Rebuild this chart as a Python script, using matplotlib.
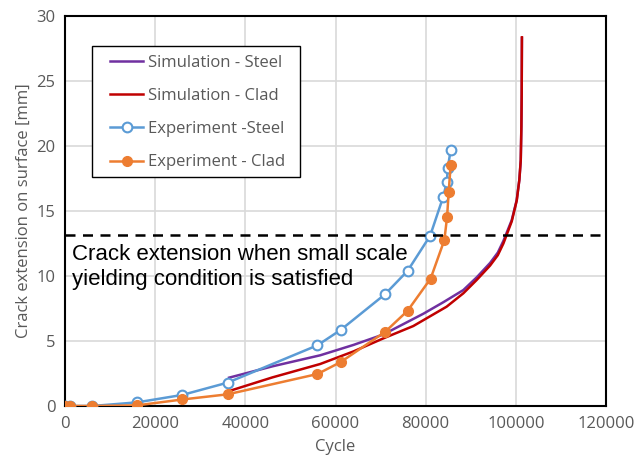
import matplotlib
matplotlib.use("Agg")
import matplotlib.pyplot as plt
from matplotlib.patches import Rectangle

# Simulation - Steel
sim_steel_x = [36400, 46000, 56600, 64000, 70600, 79500, 84000, 88360, 91330, 94280, 96000, 97240, 99090,
               100200, 100780, 101090, 101230, 101300, 101330, 101350]
sim_steel_y = [2.18, 3.05, 3.9, 4.7, 5.5, 7.1, 8.0, 8.92, 9.9, 11.0, 11.8, 12.7, 14.3,
               15.85, 17.4, 18.9, 21.5, 24.0, 26.6, 28.3]
# Simulation - Clad
sim_clad_x = [36400, 46000, 56600, 64000, 70600, 77250, 84650, 88360, 91330, 94280, 96000, 97240, 99090,
              100200, 100780, 101090, 101230, 101300, 101330, 101350]
sim_clad_y = [1.15, 2.2, 3.23, 4.2, 5.2, 6.15, 7.64, 8.67, 9.7, 10.8, 11.6, 12.5, 14.2,
              15.8, 17.4, 18.9, 21.5, 24.0, 26.6, 28.36]
# Experiment - Steel
exp_steel_x = [0, 1000, 6000, 16000, 26000, 36100, 56000, 61150, 71000, 76000, 81000, 83900, 84700, 84900, 85550]
exp_steel_y = [0, 0, 0, 0.28, 0.85, 1.8, 4.67, 5.85, 8.6, 10.4, 13.1, 16.1, 17.25, 18.3, 19.7]
# Experiment - Clad
exp_clad_x = [0, 1000, 6000, 16000, 26000, 36100, 56000, 61150, 71000, 76000, 81100, 84150, 84750, 85100, 85550]
exp_clad_y = [0, 0, 0, 0.05, 0.5, 0.9, 2.46, 3.38, 5.7, 7.33, 9.8, 12.77, 14.54, 16.43, 18.56]

ssy_level = 13.15
x_ticks = [0, 20000, 40000, 60000, 80000, 100000, 120000]
y_ticks = [0, 5, 10, 15, 20, 25, 30]

gray = "#595959"
fig = plt.figure(figsize=(6.38, 4.69), dpi=100)
ax = fig.add_axes([65/638, 1-406/469, 541/638, 390/469])

ax.plot(sim_steel_x, sim_steel_y, color="#7030A0", lw=1.8, label="Simulation - Steel", zorder=3)
ax.plot(sim_clad_x, sim_clad_y, color="#C00000", lw=1.8, label="Simulation - Clad", zorder=3)
ax.plot(exp_steel_x, exp_steel_y, color="#5B9BD5", lw=1.8, marker="o", ms=7,
        mfc="white", mec="#5B9BD5", mew=1.5, label="Experiment -Steel", zorder=4)
ax.plot(exp_clad_x, exp_clad_y, color="#ED7D31", lw=1.8, marker="o", ms=7,
        mfc="#ED7D31", mec="#ED7D31", label="Experiment - Clad", zorder=4)
ax.axhline(ssy_level, color="black", lw=1.8, ls=(0, (4, 3)), zorder=5)

ax.text(1550, 11.23, "Crack extension when small scale", fontsize=16, family="Liberation Sans",
        color="black", va="baseline", zorder=6)
ax.text(1550, 9.31, "yielding condition is satisfied", fontsize=16, family="Liberation Sans",
        color="black", va="baseline", zorder=6)

ax.set_xlim(0, 120000)
ax.set_ylim(0, 30)
ax.set_xticks(x_ticks)
ax.set_yticks(y_ticks)
ax.grid(True, color="#d9d9d9", lw=1.2)
ax.set_axisbelow(True)
ax.tick_params(length=0, labelsize=12, colors=gray, pad=7)
for lab in ax.get_xticklabels() + ax.get_yticklabels():
    lab.set_family("Open Sans")
for s in ax.spines.values():
    s.set_color("black")
    s.set_linewidth(1.5)

ax.set_xlabel("Cycle", fontsize=12, color=gray, family="Open Sans", labelpad=5)
ax.set_ylabel("Crack extension on surface [mm]", fontsize=12, color=gray, family="Open Sans", labelpad=3)

# legend frame
ax.add_patch(Rectangle(((92-65)/541, (406-177)/390), (300-92)/541, (177-46)/390,
                       transform=ax.transAxes, facecolor="white", edgecolor="black",
                       lw=1.0, zorder=6))
leg = ax.legend(loc="upper left", bbox_to_anchor=((110-65)/541, (406-55)/390), frameon=False,
                handlelength=2.0, labelspacing=1.03, borderpad=0, borderaxespad=0,
                handletextpad=0.25, prop={"family": "Open Sans", "size": 12})
leg.set_zorder(7)
for t in leg.get_texts():
    t.set_color(gray)

fig.savefig("out.png", dpi=100)
